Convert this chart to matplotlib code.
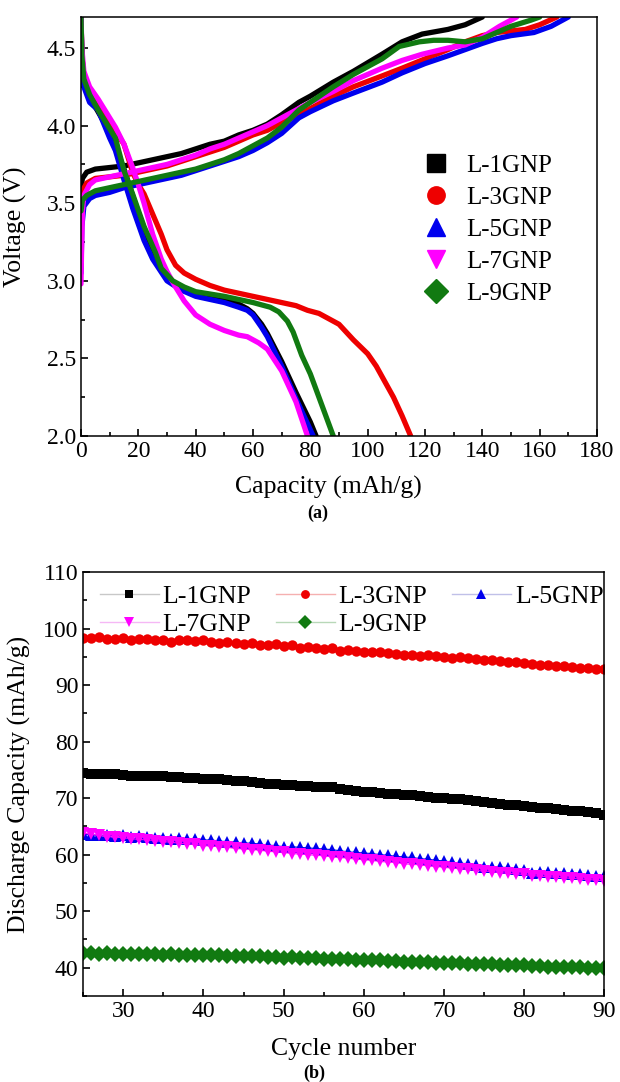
import matplotlib
matplotlib.use("Agg")
import matplotlib.pyplot as plt
from matplotlib.lines import Line2D
from matplotlib.ticker import MultipleLocator

plt.rcParams['font.family'] = ['Liberation Serif', 'DejaVu Serif']
plt.rcParams['mathtext.fontset'] = 'stix'

# ---------------- Panel (a): charge / discharge profiles ----------------
labels = ["L-1GNP", "L-3GNP", "L-5GNP", "L-7GNP", "L-9GNP"]
colors = ["#000000", "#ee0000", "#0000ee", "#ff00ff", "#117a11"]
markers_a = ["s", "o", "^", "v", "D"]

# charge curves (capacity mAh/g, voltage V)
chg_cap_1 = [0, 0.5, 2, 5, 10, 15, 20, 25, 30, 35, 40, 45, 50, 55, 60, 65, 70, 76, 80, 88, 95, 105, 112, 119, 128, 134, 140]
chg_v_1 = [3.60, 3.66, 3.70, 3.72, 3.73, 3.74, 3.76, 3.78, 3.80, 3.82, 3.85, 3.88, 3.90, 3.94, 3.97, 4.01, 4.07, 4.15, 4.19, 4.28, 4.35, 4.46, 4.54, 4.59, 4.62, 4.65, 4.70]

chg_cap_3 = [0, 0.5, 2, 5, 10, 15, 20, 25, 30, 35, 40, 45, 50, 55, 60, 65, 70, 76, 80, 88, 95, 105, 112, 120, 128, 134, 140, 145, 150, 155, 160, 166]
chg_v_3 = [3.45, 3.58, 3.63, 3.66, 3.67, 3.68, 3.70, 3.72, 3.74, 3.77, 3.80, 3.83, 3.86, 3.90, 3.94, 3.97, 4.02, 4.07, 4.11, 4.19, 4.25, 4.32, 4.37, 4.43, 4.49, 4.54, 4.58, 4.60, 4.61, 4.62, 4.65, 4.70]

chg_cap_5 = [0, 0.3, 1, 3, 5, 10, 15, 20, 25, 30, 35, 40, 45, 50, 55, 60, 65, 70, 76, 80, 88, 95, 105, 112, 120, 128, 134, 140, 145, 150, 158, 164, 170]
chg_v_5 = [3.05, 3.35, 3.48, 3.53, 3.55, 3.57, 3.60, 3.62, 3.64, 3.66, 3.68, 3.71, 3.74, 3.77, 3.80, 3.84, 3.89, 3.95, 4.05, 4.09, 4.16, 4.21, 4.28, 4.34, 4.40, 4.45, 4.49, 4.53, 4.56, 4.58, 4.60, 4.64, 4.70]

chg_cap_7 = [0, 0.2, 0.5, 1, 3, 5, 10, 15, 20, 25, 30, 35, 40, 45, 50, 55, 60, 65, 70, 76, 80, 88, 95, 105, 112, 119, 128, 134, 140, 146, 152]
chg_v_7 = [2.98, 3.20, 3.45, 3.55, 3.62, 3.65, 3.67, 3.69, 3.71, 3.73, 3.75, 3.78, 3.81, 3.85, 3.88, 3.92, 3.96, 4.00, 4.05, 4.11, 4.15, 4.22, 4.29, 4.37, 4.42, 4.46, 4.50, 4.52, 4.57, 4.64, 4.70]

chg_cap_9 = [0, 0.5, 2, 5, 10, 15, 20, 25, 30, 35, 40, 45, 50, 55, 60, 65, 70, 76, 80, 88, 95, 105, 111, 118, 123, 128, 134, 140, 145, 150, 157, 160]
chg_v_9 = [3.45, 3.52, 3.55, 3.58, 3.60, 3.62, 3.64, 3.66, 3.68, 3.70, 3.72, 3.75, 3.78, 3.82, 3.87, 3.92, 3.99, 4.10, 4.15, 4.25, 4.33, 4.43, 4.51, 4.54, 4.55, 4.55, 4.54, 4.56, 4.60, 4.64, 4.68, 4.70]

# discharge curves
dis_cap_1 = [0, 0.3, 1, 3, 5, 10, 13, 15, 18, 20, 23, 25, 28, 30, 35, 40, 45, 50, 55, 58, 60, 63, 65, 70, 75, 80, 82]
dis_v_1 = [4.70, 4.45, 4.30, 4.20, 4.12, 3.96, 3.82, 3.72, 3.55, 3.44, 3.29, 3.19, 3.08, 3.02, 2.95, 2.92, 2.90, 2.88, 2.85, 2.82, 2.79, 2.72, 2.66, 2.48, 2.28, 2.09, 2.00]

dis_cap_3 = [0, 0.3, 1, 3, 5, 10, 15, 18, 20, 22, 25, 28, 30, 33, 36, 40, 45, 50, 55, 60, 65, 70, 75, 79, 83, 86, 90, 95, 100, 103, 106, 109, 112, 115]
dis_v_3 = [4.70, 4.45, 4.32, 4.22, 4.15, 4.02, 3.88, 3.70, 3.62, 3.56, 3.43, 3.30, 3.20, 3.10, 3.05, 3.01, 2.97, 2.94, 2.92, 2.90, 2.88, 2.86, 2.84, 2.81, 2.79, 2.76, 2.72, 2.62, 2.53, 2.45, 2.35, 2.25, 2.13, 2.00]

dis_cap_5 = [0, 0.3, 1, 3, 6, 10, 12, 15, 18, 22, 25, 30, 35, 40, 45, 50, 55, 58, 60, 63, 65, 70, 75, 80, 81]
dis_v_5 = [4.70, 4.40, 4.25, 4.15, 4.10, 3.92, 3.84, 3.65, 3.47, 3.26, 3.14, 3.00, 2.94, 2.90, 2.88, 2.86, 2.83, 2.81, 2.78, 2.70, 2.64, 2.45, 2.24, 2.04, 2.00]

dis_cap_7 = [0, 0.3, 1, 3, 6, 10, 12, 15, 18, 20, 22, 25, 28, 30, 33, 36, 40, 45, 50, 55, 58, 62, 65, 70, 75, 79]
dis_v_7 = [4.70, 4.50, 4.35, 4.25, 4.17, 4.05, 3.99, 3.88, 3.73, 3.62, 3.50, 3.30, 3.14, 3.06, 2.96, 2.87, 2.78, 2.72, 2.68, 2.65, 2.64, 2.60, 2.56, 2.42, 2.22, 2.00]

dis_cap_9 = [0, 0.3, 1, 3, 6, 10, 12, 15, 18, 22, 26, 28, 32, 36, 40, 50, 60, 66, 69, 72, 74, 77, 80, 83, 86, 88]
dis_v_9 = [4.70, 4.45, 4.30, 4.20, 4.10, 3.98, 3.92, 3.71, 3.56, 3.35, 3.18, 3.08, 3.00, 2.96, 2.93, 2.90, 2.86, 2.83, 2.80, 2.74, 2.67, 2.52, 2.40, 2.25, 2.10, 2.00]

charge = [(chg_cap_1, chg_v_1), (chg_cap_3, chg_v_3), (chg_cap_5, chg_v_5), (chg_cap_7, chg_v_7), (chg_cap_9, chg_v_9)]
discharge = [(dis_cap_1, dis_v_1), (dis_cap_3, dis_v_3), (dis_cap_5, dis_v_5), (dis_cap_7, dis_v_7), (dis_cap_9, dis_v_9)]

# ---------------- Panel (b): cycling ----------------
cycles = list(range(25, 91))
cap_1 = [74.4, 74.3, 74.3, 74.2, 74.2, 74.1, 74.0, 74.0, 73.9, 73.9,
         73.9, 73.8, 73.7, 73.6, 73.5, 73.4, 73.4, 73.3, 73.2, 73.1,
         73.0, 72.9, 72.6, 72.5, 72.5, 72.4, 72.3, 72.2, 72.1, 72.0,
         72.0, 71.9, 71.6, 71.4, 71.3, 71.1, 71.0, 70.9, 70.8, 70.7,
         70.6, 70.5, 70.3, 70.2, 70.1, 70.0, 69.9, 69.8, 69.7, 69.5,
         69.4, 69.2, 69.0, 68.8, 68.7, 68.6, 68.4, 68.3, 68.2, 68.1,
         67.9, 67.8, 67.7, 67.5, 67.3, 67.0]
cap_3 = [98.4, 98.3, 98.5, 98.2, 98.1, 98.3, 98.0, 98.1, 98.2, 98.0,
         97.9, 97.6, 98.0, 98.0, 97.8, 97.9, 97.6, 97.4, 97.6, 97.5,
         97.3, 97.4, 97.1, 97.0, 97.2, 96.9, 97.0, 96.6, 96.7, 96.6,
         96.4, 96.5, 96.1, 96.2, 96.0, 95.9, 95.8, 95.8, 95.6, 95.5,
         95.4, 95.3, 95.2, 95.3, 95.1, 94.9, 94.8, 94.9, 94.8, 94.6,
         94.5, 94.4, 94.2, 94.1, 94.0, 93.9, 93.7, 93.6, 93.6, 93.4,
         93.3, 93.2, 93.1, 93.0, 92.9, 92.8]
cap_5 = [63.6, 63.5, 63.4, 63.5, 63.3, 63.4, 63.2, 63.3, 63.1, 63.0,
         62.9, 62.8, 62.9, 62.8, 62.7, 62.6, 62.6, 62.4, 62.3, 62.2,
         62.1, 62.0, 61.9, 61.7, 61.6, 61.4, 61.4, 61.3, 61.2, 61.1,
         61.0, 60.9, 60.7, 60.5, 60.4, 60.3, 60.2, 60.0, 59.9, 59.7,
         59.6, 59.5, 59.3, 59.2, 59.0, 58.9, 58.7, 58.5, 58.4, 58.1,
         57.9, 57.9, 57.8, 57.7, 57.5, 57.2, 56.8, 56.9, 57.0, 56.8,
         56.7, 56.6, 56.5, 56.4, 56.3, 56.2]
cap_7 = [63.8, 63.6, 63.4, 63.2, 63.1, 63.0, 62.8, 62.7, 62.6, 62.5,
         62.3, 62.2, 62.0, 61.9, 61.8, 61.6, 61.5, 61.4, 61.3, 61.1,
         61.0, 60.9, 60.8, 60.6, 60.5, 60.4, 60.2, 60.1, 60.0, 59.9,
         59.8, 59.6, 59.5, 59.4, 59.2, 59.1, 59.0, 58.8, 58.7, 58.6,
         58.4, 58.3, 58.2, 58.0, 57.9, 57.8, 57.6, 57.5, 57.4, 57.2,
         57.1, 57.0, 56.8, 56.7, 56.6, 56.5, 56.3, 56.2, 56.1, 56.0,
         55.9, 55.8, 55.7, 55.6, 55.5, 55.4]
cap_9 = [42.6, 42.6, 42.5, 42.6, 42.5, 42.5, 42.4, 42.5, 42.4, 42.4,
         42.3, 42.4, 42.3, 42.3, 42.2, 42.3, 42.2, 42.2, 42.1, 42.1,
         42.0, 42.1, 42.0, 41.9, 41.9, 41.8, 41.9, 41.8, 41.7, 41.7,
         41.6, 41.6, 41.5, 41.5, 41.4, 41.4, 41.3, 41.3, 41.2, 41.2,
         41.1, 41.1, 41.0, 41.0, 40.9, 40.9, 40.8, 40.8, 40.7, 40.7,
         40.6, 40.6, 40.5, 40.5, 40.4, 40.4, 40.3, 40.3, 40.2, 40.2,
         40.2, 40.1, 40.1, 40.0, 40.0, 40.0]
cycling = [cap_1, cap_3, cap_5, cap_7, cap_9]
markers_b = ["s", "o", "^", "v", "D"]
msize_b = [7.0, 7.5, 8.0, 8.5, 8.5]

W, H = 620, 1082
fig = plt.figure(figsize=(W / 100, H / 100), dpi=100)

def frac(l, t, r, b):
    return [l / W, 1 - b / H, (r - l) / W, (b - t) / H]

# ---------- panel a ----------
ax1 = fig.add_axes(frac(81, 17, 597, 436))
for (cc, cv), (dc, dv), col in zip(charge, discharge, colors):
    ax1.plot(cc, cv, color=col, lw=3.8, solid_capstyle='round', solid_joinstyle='round')
    ax1.plot(dc, dv, color=col, lw=3.8, solid_capstyle='round', solid_joinstyle='round')
ax1.set_xlim(0, 180)
ax1.set_ylim(2.0, 4.7)
ax1.xaxis.set_major_locator(MultipleLocator(20))
ax1.xaxis.set_minor_locator(MultipleLocator(10))
ax1.yaxis.set_major_locator(MultipleLocator(0.5))
ax1.yaxis.set_minor_locator(MultipleLocator(0.25))
ax1.set_xlabel("Capacity (mAh/g)", fontsize=18.5)
ax1.set_ylabel("Voltage (V)", fontsize=18.5)
ax1.xaxis.set_label_coords(0.48, -0.095)
ax1.yaxis.set_label_coords(-0.105, 0.5)
ax1.tick_params(which='both', direction='in', top=False, right=False, labelsize=17, width=1.2)
ax1.tick_params(which='major', length=5)
ax1.tick_params(which='minor', length=3)
for s in ax1.spines.values():
    s.set_linewidth(1.1)
h1 = [Line2D([], [], color=c, marker=m, linestyle='none', markersize=12.5)
      for c, m in zip(colors, markers_a)]
ax1.legend(h1, labels, loc='upper left', bbox_to_anchor=(0.62, 0.725), frameon=False,
           fontsize=18, handlelength=1.0, handletextpad=0.7, labelspacing=0.38, borderpad=0.4)
fig.text(318 / W, 1 - 513 / H, "(a)", fontsize=13, fontweight='bold', ha='center', va='center')

# ---------- panel b ----------
ax2 = fig.add_axes(frac(83.3, 572, 604, 996))
for vals, col, m, ms, lab in zip(cycling, colors, markers_b, msize_b, labels):
    ax2.plot(cycles, vals, color=col, lw=0.8, marker=m, markersize=ms,
             markeredgewidth=0, label=lab)
ax2.set_xlim(25, 90)
ax2.set_ylim(35, 110)
ax2.xaxis.set_major_locator(MultipleLocator(10))
ax2.xaxis.set_minor_locator(MultipleLocator(5))
ax2.yaxis.set_major_locator(MultipleLocator(10))
ax2.yaxis.set_minor_locator(MultipleLocator(5))
ax2.set_xlabel("Cycle number", fontsize=18.5)
ax2.set_ylabel("Discharge Capacity (mAh/g)", fontsize=18.5)
ax2.xaxis.set_label_coords(0.5, -0.1)
ax2.yaxis.set_label_coords(-0.1, 0.5)
ax2.tick_params(which='both', direction='in', top=False, right=False, labelsize=17, width=1.2)
ax2.tick_params(which='major', length=5)
ax2.tick_params(which='minor', length=3)
for s in ax2.spines.values():
    s.set_linewidth(1.1)
light = ["#c8c8c8", "#f5b0b0", "#c0c0e8", "#f5b8f5", "#b8d8b8"]
h2 = [Line2D([], [], color=lc, lw=1.0, marker=m, markersize=ms * 0.85, markerfacecolor=c,
             markeredgewidth=0)
      for c, lc, m, ms in zip(colors, light, markers_b, msize_b)]
# column-major fill of a 3-column legend -> rows: [1,3,5] / [7,9]
order = [0, 3, 1, 4, 2]
ax2.legend([h2[i] for i in order], [labels[i] for i in order], loc='upper left',
           bbox_to_anchor=(-0.013, 1.025), ncol=3, frameon=False,
           fontsize=18.5, handlelength=2.3, handletextpad=0.15, columnspacing=0.95,
           labelspacing=0.2, borderpad=0.4)
fig.text(314 / W, 1 - 1073 / H, "(b)", fontsize=13, fontweight='bold', ha='center', va='center')

fig.savefig("out.png", dpi=100)
